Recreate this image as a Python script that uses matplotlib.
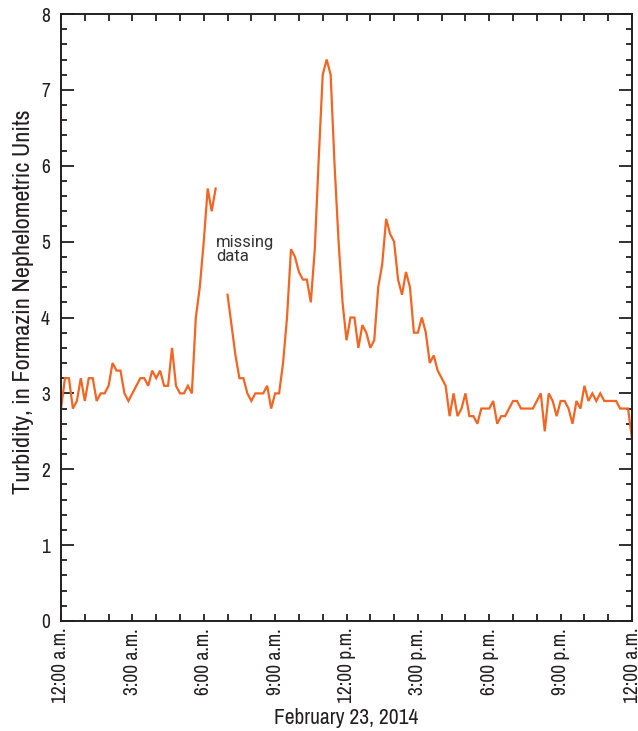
import numpy as np
import matplotlib
matplotlib.use("Agg")
import matplotlib.pyplot as plt
from matplotlib import font_manager
from matplotlib.ticker import MultipleLocator, FixedLocator

# 10-minute turbidity readings, 12:00 a.m. to 12:00 a.m. (hours since midnight)
step_hours = 10 / 60
turbidity = [
    2.8, 3.2, 3.2, 2.8, 2.9, 3.2, 2.9, 3.2, 3.2, 2.9,
    3.0, 3.0, 3.1, 3.4, 3.3, 3.3, 3.0, 2.9, 3.0, 3.1,
    3.2, 3.2, 3.1, 3.3, 3.2, 3.3, 3.1, 3.1, 3.6, 3.1,
    3.0, 3.0, 3.1, 3.0, 4.0, 4.4, 5.0, 5.7, 5.4, 5.7,
    np.nan, np.nan,
    4.3, 3.9, 3.5, 3.2, 3.2, 3.0, 2.9, 3.0, 3.0, 3.0,
    3.1, 2.8, 3.0, 3.0, 3.4, 4.0, 4.9, 4.8, 4.6, 4.5,
    4.5, 4.2, 4.9, 6.1, 7.2, 7.4, 7.2, 6.0, 5.0, 4.2,
    3.7, 4.0, 4.0, 3.6, 3.9, 3.8, 3.6, 3.7, 4.4, 4.7,
    5.3, 5.1, 5.0, 4.5, 4.3, 4.6, 4.4, 3.8, 3.8, 4.0,
    3.8, 3.4, 3.5, 3.3, 3.2, 3.1, 2.7, 3.0, 2.7, 2.8,
    3.0, 2.7, 2.7, 2.6, 2.8, 2.8, 2.8, 2.9, 2.6, 2.7,
    2.7, 2.8, 2.9, 2.9, 2.8, 2.8, 2.8, 2.8, 2.9, 3.0,
    2.5, 3.0, 2.9, 2.7, 2.9, 2.9, 2.8, 2.6, 2.9, 2.8,
    3.1, 2.9, 3.0, 2.9, 3.0, 2.9, 2.9, 2.9, 2.9, 2.8,
    2.8, 2.8, 2.4,
]
hours = np.arange(len(turbidity)) * step_hours

xtick_hours = [0, 3, 6, 9, 12, 15, 18, 21, 24]
xtick_labels = ["12:00 a.m.", "3:00 a.m.", "6:00 a.m.", "9:00 a.m.", "12:00 p.m.",
                "3:00 p.m.", "6:00 p.m.", "9:00 p.m.", "12:00 a.m."]

# pick a condensed/narrow face if one is installed
names = sorted({f.name for f in font_manager.fontManager.ttflist})
narrow = [n for n in names if "Narrow" in n or "Condensed" in n]
font = (narrow[:1] if narrow else []) + ["Liberation Sans", "DejaVu Sans"]
plt.rcParams["font.family"] = font

fig = plt.figure(figsize=(6.38, 7.31), dpi=100)
ax = fig.add_axes([61/638, 110/731, 571/638, 607/731])

ax.plot(hours, turbidity, color="#F26522", lw=1.6, solid_joinstyle="miter")

ax.set_xlim(0, 24)
ax.set_ylim(0, 8)
ax.xaxis.set_major_locator(FixedLocator(xtick_hours))
ax.xaxis.set_minor_locator(MultipleLocator(1))
ax.yaxis.set_major_locator(MultipleLocator(1))
ax.yaxis.set_minor_locator(MultipleLocator(0.2))
ax.set_xticklabels(xtick_labels, rotation=90, fontsize=14, color="#231F20")
for lab in ax.get_yticklabels():
    lab.set_fontsize(14)
    lab.set_color("#231F20")

ax.tick_params(axis="both", which="both", direction="in", top=True, right=True,
               color="#231F20", width=1.3)
ax.tick_params(axis="y", which="major", length=9.5, pad=8)
ax.tick_params(axis="y", which="minor", length=4.5)
ax.tick_params(axis="x", which="both", length=5, pad=5)

for s in ax.spines.values():
    s.set_linewidth(1.4)
    s.set_color("#231F20")

ax.set_ylabel("Turbidity, in Formazin Nephelometric Units", fontsize=17.5,
              color="#231F20")
ax.yaxis.set_label_coords(-0.0465, 0.5255)
ax.set_xlabel("February 23, 2014", fontsize=15.5, color="#231F20", labelpad=3)

ax.text(6.52, 4.9, "missing\ndata", fontsize=12, family=["Roboto", "DejaVu Sans"],
        color="#333333", va="center", ha="left", linespacing=0.95)

fig.savefig("out.png", dpi=100)
